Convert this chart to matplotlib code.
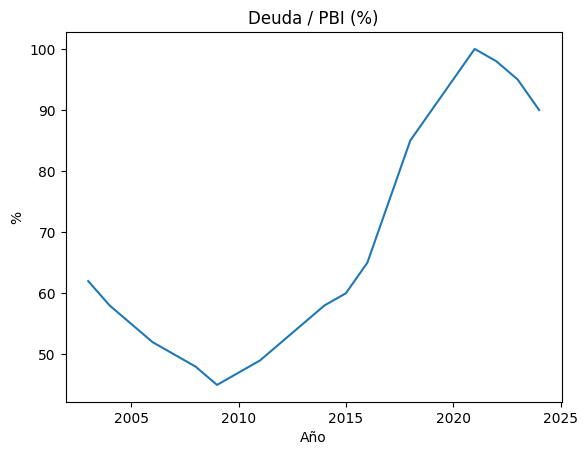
import matplotlib.pyplot as plt

years = [2003, 2004, 2005, 2006, 2007, 2008, 2009, 2010, 2011, 2012, 2013,
         2014, 2015, 2016, 2017, 2018, 2019, 2020, 2021, 2022, 2023, 2024]
debt_gdp = [62, 58, 55, 52, 50, 48, 45, 47, 49, 52, 55,
            58, 60, 65, 75, 85, 90, 95, 100, 98, 95, 90]

plt.figure()
plt.plot(years, debt_gdp)
plt.title('Deuda / PBI (%)')
plt.xlabel('Año')
plt.ylabel('%')
plt.savefig('out.png', bbox_inches='tight')
